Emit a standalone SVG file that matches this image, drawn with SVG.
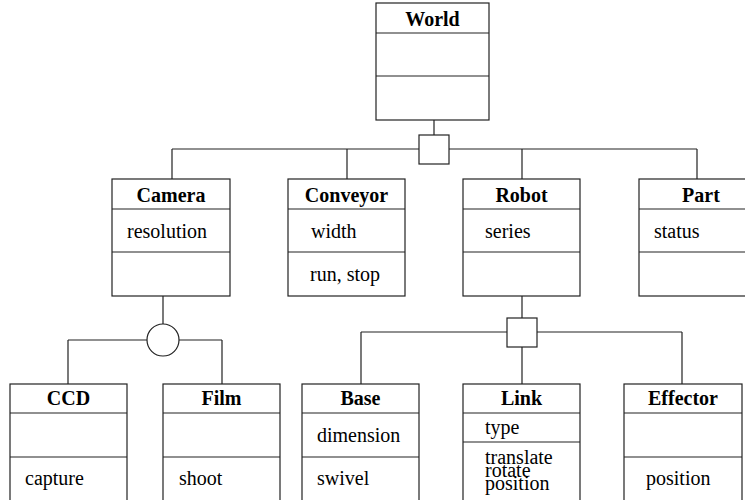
<svg xmlns="http://www.w3.org/2000/svg" width="745" height="500" viewBox="0 0 745 500">
<style>
.box{fill:#fff;stroke:#222;stroke-width:1.2}
.ln{fill:none;stroke:#222;stroke-width:1.2}
.h{font-family:"Liberation Serif",serif;font-weight:bold;font-size:20px;text-anchor:middle;fill:#000}
.t{font-family:"Liberation Serif",serif;font-size:20px;fill:#000}
</style>
<rect width="745" height="500" fill="#fff"/>
<g id="connectors">
<path class="ln" d="M434,120V135M434,164V149M172,149H697M172,149V179M347,149V179M522,149V179M697,149V179"/>
<path class="ln" d="M163,296V324M68,340H147M179,340H222M68,340V384M222,340V384"/>
<path class="ln" d="M522,296V318M361,332H682M361,332V384M682,332V384M522,347V384"/>
<rect class="box" x="419" y="135" width="30" height="29"/>
<circle class="box" cx="163" cy="340" r="16"/>
<rect class="box" x="507" y="318" width="30" height="29"/>
</g>
<g id="world">
<rect class="box" x="376" y="3" width="113" height="117"/>
<path class="ln" d="M376,33H489M376,76H489"/>
<text class="h" x="432.5" y="26">World</text>
</g>
<g id="camera">
<rect class="box" x="112" y="179" width="118" height="117"/>
<path class="ln" d="M112,209H230M112,252H230"/>
<text class="h" x="171" y="202">Camera</text>
<text class="t" x="127" y="238">resolution</text>
</g>
<g id="conveyor">
<rect class="box" x="288" y="179" width="117" height="117"/>
<path class="ln" d="M288,209H405M288,252H405"/>
<text class="h" x="346.5" y="202">Conveyor</text>
<text class="t" x="311" y="238">width</text>
<text class="t" x="310" y="281">run, stop</text>
</g>
<g id="robot">
<rect class="box" x="463" y="179" width="117" height="117"/>
<path class="ln" d="M463,209H580M463,252H580"/>
<text class="h" x="521.5" y="202">Robot</text>
<text class="t" x="485" y="238">series</text>
</g>
<g id="part">
<rect class="box" x="639" y="179" width="122" height="117"/>
<path class="ln" d="M639,209H761M639,252H761"/>
<text class="h" x="701" y="202">Part</text>
<text class="t" x="654" y="238">status</text>
</g>
<g id="ccd">
<rect class="box" x="10" y="384" width="117" height="130"/>
<path class="ln" d="M10,413H127M10,457H127"/>
<text class="h" x="68.5" y="405">CCD</text>
<text class="t" x="25" y="485">capture</text>
</g>
<g id="film">
<rect class="box" x="163" y="384" width="117" height="130"/>
<path class="ln" d="M163,413H280M163,457H280"/>
<text class="h" x="221.5" y="405">Film</text>
<text class="t" x="179" y="485">shoot</text>
</g>
<g id="base">
<rect class="box" x="302" y="384" width="117" height="130"/>
<path class="ln" d="M302,413H419M302,457H419"/>
<text class="h" x="360.5" y="405">Base</text>
<text class="t" x="317" y="442">dimension</text>
<text class="t" x="317" y="485">swivel</text>
</g>
<g id="link">
<rect class="box" x="463" y="384" width="117" height="130"/>
<path class="ln" d="M463,413H580M463,442H580"/>
<text class="h" x="521.5" y="405">Link</text>
<text class="t" x="485" y="434">type</text>
<text class="t" x="485" y="464">translate</text>
<text class="t" x="485" y="477">rotate</text>
<text class="t" x="485" y="490">position</text>
</g>
<g id="effector">
<rect class="box" x="624" y="384" width="118" height="130"/>
<path class="ln" d="M624,413H742M624,457H742"/>
<text class="h" x="683" y="405">Effector</text>
<text class="t" x="646" y="485">position</text>
</g>
</svg>
